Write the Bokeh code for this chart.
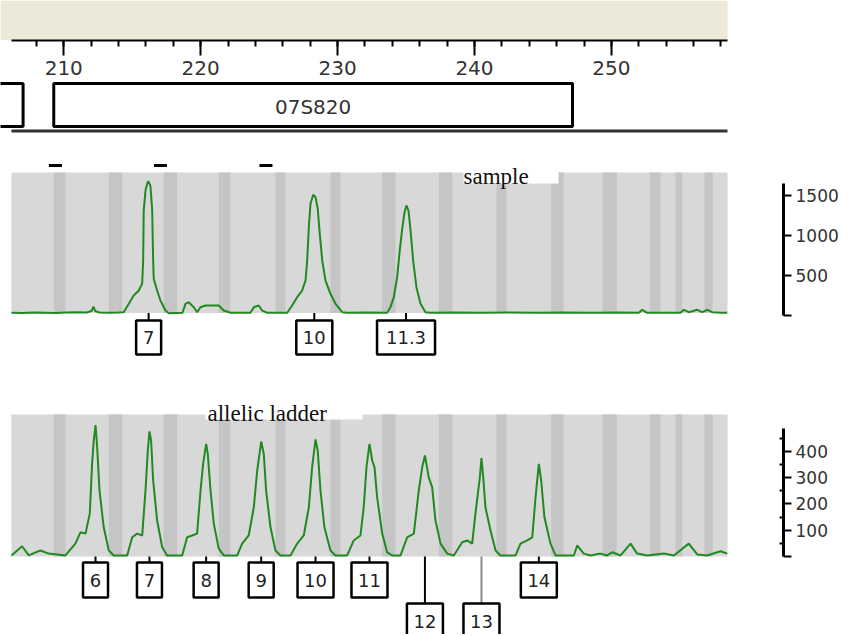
from bokeh.plotting import figure
from bokeh.layouts import column
from bokeh.models import Range1d, LinearAxis, SingleIntervalTicker, FixedTicker
from bokeh.core.properties import value
from bokeh.embed import file_html
from bokeh.resources import INLINE

# ------------------------------------------------------------------ data
VIEW_START, VIEW_END = 206.18, 258.48      # displayed size window (bp)
X_START, X_END = 205.38, 262.57            # window incl. header margin and detached RFU scales

marker_names = ["", "07S820"]
marker_start = [195.0, 209.27]
marker_end = [207.03, 247.16]

bin_left = [209.27, 213.29, 217.30, 221.32, 225.46, 229.48, 233.26,
            237.39, 241.61, 245.60, 249.35, 252.81, 254.68, 256.80]
bin_right = [210.12, 214.27, 218.28, 222.17, 226.19, 230.21, 234.23,
             238.37, 242.34, 246.52, 250.39, 253.59, 255.17, 257.39]

sample_flag_bp = [209.39, 217.06, 224.77]

sample_bp = [206.18, 207.00, 207.80, 208.60, 209.40, 210.20, 211.00, 211.70, 212.05, 212.17,
             212.30, 212.60, 213.40, 214.00, 214.38, 214.75, 215.11, 215.48, 215.73, 215.80,
             215.84, 215.97, 216.10, 216.17, 216.25, 216.33, 216.46, 216.53, 216.57, 216.82,
             217.06, 217.43, 217.67, 218.67, 218.89, 219.13, 219.50, 219.74, 219.99, 220.35,
             221.32, 221.69, 222.18, 223.64, 223.88, 224.24, 224.49, 224.86, 226.32, 226.68,
             227.05, 227.41, 227.66, 227.78, 227.90, 228.02, 228.22, 228.39, 228.55, 228.70,
             228.88, 229.12, 229.48, 229.85, 230.34, 230.70, 232.16, 233.62, 233.86, 234.11,
             234.35, 234.54, 234.72, 234.89, 235.03, 235.18, 235.33, 235.52, 235.76, 236.06,
             236.42, 236.79, 238.50, 240.50, 242.50, 244.50, 246.50, 248.50, 250.50, 252.00,
             252.25, 252.61, 253.80, 255.05, 255.29, 255.65, 256.27, 256.63, 257.00, 257.36,
             257.97, 258.46]
sample_rfu = [34, 30, 37, 34, 30, 37, 40, 37, 60, 112,
              55, 37, 34, 37, 41, 146, 250, 312, 400, 687,
              1312, 1562, 1650, 1679, 1650, 1625, 1312, 687, 459, 312,
              187, 62, 29, 34, 146, 166, 104, 41, 104, 125,
              125, 62, 34, 34, 104, 125, 62, 34, 34, 125,
              229, 312, 437, 687, 1104, 1396, 1509, 1479, 1334, 1021,
              687, 437, 271, 146, 41, 34, 37, 34, 104, 229,
              479, 812, 1084, 1291, 1375, 1312, 1062, 687, 354, 146,
              41, 34, 37, 34, 37, 34, 37, 34, 37, 34,
              71, 34, 34, 34, 71, 41, 71, 41, 71, 41,
              34, 34]
sample_alleles = ["7", "10", "11.3"]
sample_allele_bp = [216.20, 228.30, 235.00]

ladder_bp = [206.18, 206.96, 207.44, 208.30, 208.90, 210.12,
             210.85, 211.22, 211.59, 211.90, 212.07, 212.19, 212.32, 212.44, 212.61, 212.92, 213.29, 213.65, 214.63,
             215.00, 215.36, 215.73, 215.97, 216.14, 216.26, 216.38, 216.53, 216.82, 217.19, 217.55, 218.65,
             219.01, 219.38, 219.74, 219.99, 220.18, 220.40, 220.52, 220.72, 220.96, 221.32, 221.69, 222.67,
             223.03, 223.51, 223.88, 224.13, 224.42, 224.61, 224.78, 225.10, 225.46, 225.83, 226.56,
             227.05, 227.53, 227.90, 228.14, 228.39, 228.55, 228.75, 229.04, 229.48, 229.85, 230.70,
             231.18, 231.67, 231.91, 232.11, 232.33, 232.53, 232.70, 232.89, 233.26, 233.62, 233.99, 234.60,
             235.08, 235.57, 235.93, 236.18, 236.38, 236.66, 236.91, 237.15, 237.52, 238.01, 238.49,
             239.10, 239.47, 239.83, 240.07, 240.39, 240.51, 240.64, 240.80, 241.17, 241.54, 241.90, 243.00,
             243.36, 243.85, 244.22, 244.46, 244.70, 244.87, 245.11, 245.55, 245.92, 247.26,
             247.50, 247.98, 248.47, 249.20, 249.69, 250.06, 250.67, 251.40, 251.88, 252.61, 253.83,
             254.56, 255.65, 256.27, 256.99, 257.97, 258.46]
ladder_rfu = [4, 39, 4, 23, 11, 4,
              49, 92, 87, 163, 352, 441, 500, 415, 251, 111, 23, 4, 4,
              73, 87, 80, 251, 403, 476, 441, 289, 137, 35, 4, 4,
              73, 80, 87, 251, 352, 428, 390, 251, 125, 30, 4, 4,
              49, 80, 187, 327, 437, 390, 251, 111, 23, 4, 4,
              49, 80, 187, 339, 445, 403, 251, 111, 23, 4, 4,
              61, 80, 187, 339, 428, 365, 339, 225, 87, 16, 4, 4,
              73, 87, 251, 339, 384, 301, 263, 137, 49, 11, 4,
              54, 61, 49, 163, 301, 374, 301, 187, 99, 23, 4, 4,
              49, 61, 73, 225, 352, 289, 149, 49, 4, 4,
              42, 11, 4, 11, 4, 16, 4, 49, 11, 4, 11,
              4, 49, 8, 4, 20, 11]
ladder_alleles = ["6", "7", "8", "9", "10", "11", "12", "13", "14"]
ladder_allele_bp = [212.32, 216.26, 220.40, 224.42, 228.39, 232.33, 236.38, 240.51, 244.70]

size_tick_interval = 10
sample_yticks = [0, 500, 1000, 1500]
ladder_yticks = [0, 100, 200, 300, 400]
ladder_yminor = [50, 150, 250, 350, 450]

# ------------------------------------------------------------------ style
FW = 783
GREEN = "#1f8a1f"
LIGHT = "#d8d8d8"
DARK = "#c5c5c5"
BEIGE = "#ece9d8"
SANS = value("DejaVu Sans")
SERIF = value("Liberation Serif")
LOWERED = {"12": "black", "13": "#8c8c8c"}

xr = Range1d(X_START, X_END)


def base(h, yr):
    p = figure(frame_width=FW, frame_height=h, x_range=xr, y_range=yr,
               output_backend="svg", toolbar_location=None, tools="",
               x_axis_location=None, y_axis_location=None, title=None,
               min_border_left=0, min_border_right=58, min_border_top=0,
               min_border_bottom=0, outline_line_color=None,
               background_fill_color="white", border_fill_color="white")
    p.xgrid.visible = False
    p.ygrid.visible = False
    return p


def box_w(t):
    return 14 + 11 * len(t)


# ------------------------------------------------------------------ header
pa = base(150, Range1d(150, 0))
pa.quad(left=[X_START], right=[VIEW_END], top=[0], bottom=[39.5],
        fill_color=BEIGE, line_color=None)
ax = LinearAxis(fixed_location=39.5, bounds=(VIEW_START, VIEW_END),
                ticker=SingleIntervalTicker(interval=size_tick_interval, num_minor_ticks=5))
ax.axis_line_color = "black"
ax.axis_line_width = 2
ax.major_tick_out = 15
ax.major_tick_in = 0
ax.major_tick_line_width = 2
ax.minor_tick_out = 6
ax.minor_tick_in = 0
ax.minor_tick_line_width = 2
ax.major_label_text_font = "DejaVu Sans"
ax.major_label_text_font_size = "20px"
ax.major_label_text_color = "#333333"
ax.major_label_standoff = 6
pa.add_layout(ax, "below")
pa.quad(left=marker_start, right=marker_end, top=83, bottom=126,
        fill_color="white", line_color="black", line_width=3)
pa.text(x=[(marker_start[1] + marker_end[1]) / 2], y=[106], text=[marker_names[1]],
        text_align="center", text_baseline="middle", text_font=SANS,
        text_font_size="20px", text_color="#333333")
pa.segment(x0=[VIEW_START], x1=[VIEW_END], y0=[130.5], y1=[130.5],
           line_color="#333333", line_width=3)


def panel(h, yr, top_px, base_px, rfu_bp, rfu, label, label_box, label_xy):
    p = base(h, yr)
    p.extra_y_ranges = {"px": Range1d(h, 0)}
    p.extra_x_ranges = {"px": Range1d(0, FW)}
    p.quad(left=[VIEW_START], right=[VIEW_END], top=[top_px], bottom=[base_px],
           fill_color=LIGHT, line_color=None, y_range_name="px")
    p.quad(left=bin_left, right=bin_right, top=top_px, bottom=base_px,
           fill_color=DARK, line_color=None, y_range_name="px")
    l, r, t, b = label_box
    p.quad(left=[l], right=[r], top=[t], bottom=[b], fill_color="white",
           line_color=None, x_range_name="px", y_range_name="px")
    p.text(x=[label_xy[0]], y=[label_xy[1]], text=[label], text_align="left",
           text_baseline="alphabetic", text_font=SERIF, text_font_size="23px",
           text_color="#111111", x_range_name="px", y_range_name="px")
    p.line(rfu_bp, rfu, line_color=GREEN, line_width=2)
    return p


def right_axis(p, ticks, top, minor=None):
    ra = LinearAxis(ticker=FixedTicker(ticks=ticks, minor_ticks=minor or []),
                    bounds=(0, top), major_label_overrides={0: ""})
    ra.axis_line_width = 3
    ra.axis_line_color = "black"
    ra.major_tick_out = 8
    ra.major_tick_in = 0
    ra.major_tick_line_width = 2
    ra.minor_tick_out = 0
    ra.minor_tick_in = 4
    ra.minor_tick_line_width = 2
    ra.major_label_text_font = "DejaVu Sans"
    ra.major_label_text_font_size = "17px"
    ra.major_label_text_color = "#333333"
    ra.major_label_standoff = 4
    p.add_layout(ra, "right")


def allele_boxes(p, bp, names, y_center, h):
    w = [box_w(t) for t in names]
    p.rect(x=bp, y=[y_center] * len(bp), width=w, height=h,
           width_units="screen", height_units="screen", y_range_name="px",
           fill_color="white", line_color="black", line_width=2.5)
    p.text(x=bp, y=[y_center] * len(bp), text=names, text_align="center",
           text_baseline="middle", text_font=SANS, text_font_size="18px",
           text_color="#222222", y_range_name="px")


# ------------------------------------------------------------------ sample
pb = panel(230, Range1d(-812.5, 2062.5), 22, 162.5, sample_bp, sample_rfu,
           "sample", (463, 558, 17, 33), (463, 25.5))
pb.rect(x=sample_flag_bp, y=[15] * 3, width=13, height=3, width_units="screen",
        height_units="screen", y_range_name="px", fill_color="black", line_color=None)
pb.segment(x0=sample_allele_bp, x1=sample_allele_bp, y0=[162.5] * 3, y1=[170] * 3,
           line_color="black", line_width=2, y_range_name="px")
allele_boxes(pb, sample_allele_bp, sample_alleles, 187, 34)
right_axis(pb, sample_yticks, 1650)

# ------------------------------------------------------------------ ladder
pc = panel(254, Range1d(-296.6, 669.2), 34, 176, ladder_bp, ladder_rfu,
           "allelic ladder", (205, 362, 10, 39), (207, 32.5))
up_bp = [b for b, n in zip(ladder_allele_bp, ladder_alleles) if n not in LOWERED]
up_nm = [n for n in ladder_alleles if n not in LOWERED]
lo_bp = [b for b, n in zip(ladder_allele_bp, ladder_alleles) if n in LOWERED]
lo_nm = [n for n in ladder_alleles if n in LOWERED]
pc.segment(x0=up_bp, x1=up_bp, y0=[176] * len(up_bp), y1=[182] * len(up_bp),
           line_color="black", line_width=2, y_range_name="px")
pc.segment(x0=lo_bp, x1=lo_bp, y0=[176] * len(lo_bp), y1=[223] * len(lo_bp),
           line_color=[LOWERED[n] for n in lo_nm], line_width=2, y_range_name="px")
allele_boxes(pc, up_bp, up_nm, 199.5, 35)
allele_boxes(pc, lo_bp, lo_nm, 241, 36)
right_axis(pc, ladder_yticks, 487, ladder_yminor)

layout = column(pa, pb, pc, spacing=0)
open("out.html", "w").write(file_html(layout, INLINE))
